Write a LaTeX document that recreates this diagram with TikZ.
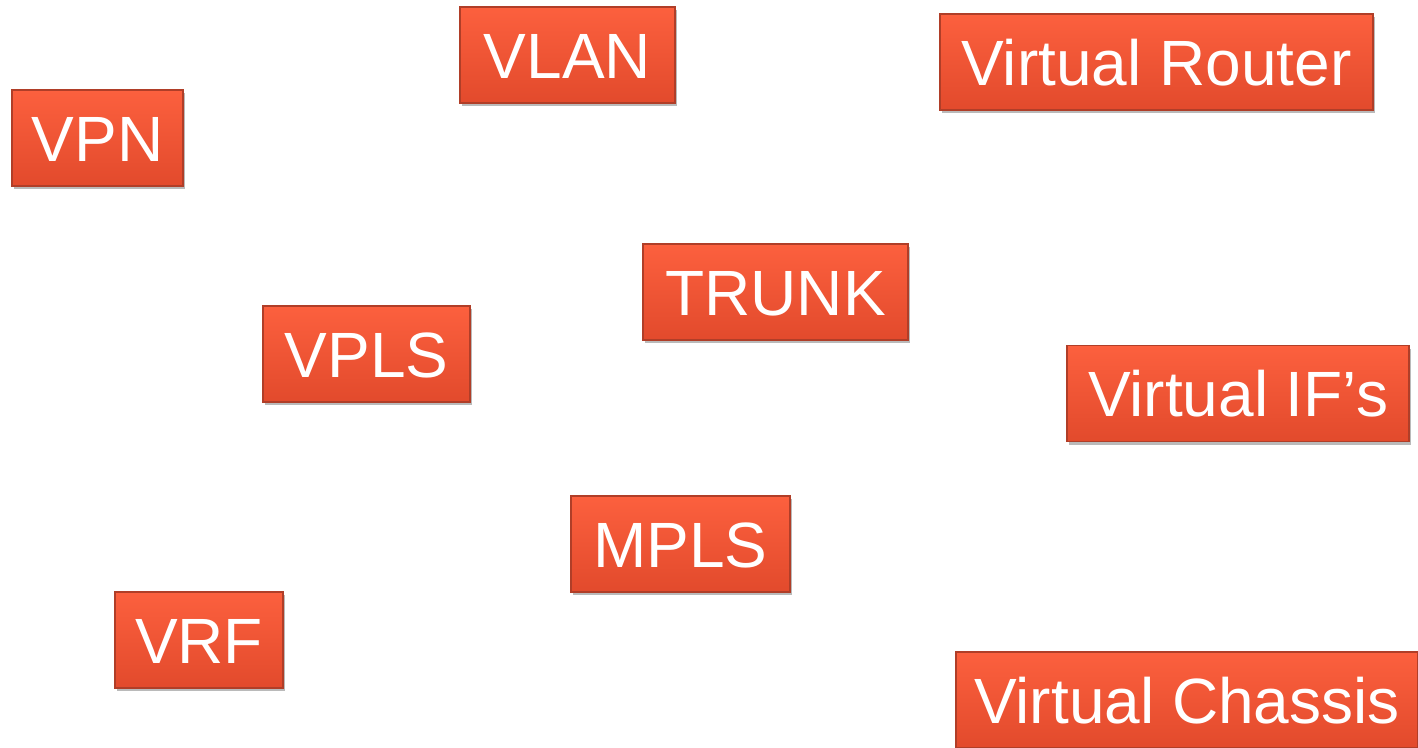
\documentclass[tikz,border=0pt]{standalone}
\usepackage{fontspec}
\setmainfont{Liberation Sans}
\usepackage{tikz}
\usetikzlibrary{shadows}

\definecolor{boxtop}{RGB}{252,96,62}
\definecolor{boxbot}{RGB}{226,74,44}
\definecolor{boxline}{RGB}{176,62,40}

\begin{document}
\begin{tikzpicture}[x=1pt, y=-1pt,
    tag/.style = {draw=boxline, line width=1.2pt, top color=boxtop, bottom color=boxbot,
        text=white, font=\fontsize{64}{70}\selectfont, minimum height=96pt,
        text height=46pt, text depth=0pt, inner xsep=0pt,
        drop shadow={shadow xshift=2pt, shadow yshift=-3pt, fill=black!45, opacity=0.6}}]
    \useasboundingbox (0,0) rectangle (1418,747);
    \node[tag, minimum width=171pt] (vpn) at (97.5,138) {VPN};
    \node[tag, minimum width=215pt] (vlan) at (567.5,55) {VLAN};
    \node[tag, minimum width=433pt] (vrouter) at (1156.5,62) {Virtual Router};
    \node[tag, minimum width=265pt] (trunk) at (775.5,292) {TRUNK};
    \node[tag, minimum width=207pt] (vpls) at (366.5,354) {VPLS};
    \node[tag, minimum width=342pt] (vif) at (1238,393.5) {Virtual IF’s};
    \node[tag, minimum width=219pt] (mpls) at (680.5,544) {MPLS};
    \node[tag, minimum width=168pt] (vrf) at (199,640) {VRF};
    \node[tag, minimum width=462pt] (vchassis) at (1187,700) {Virtual Chassis};
\end{tikzpicture}
\end{document}
